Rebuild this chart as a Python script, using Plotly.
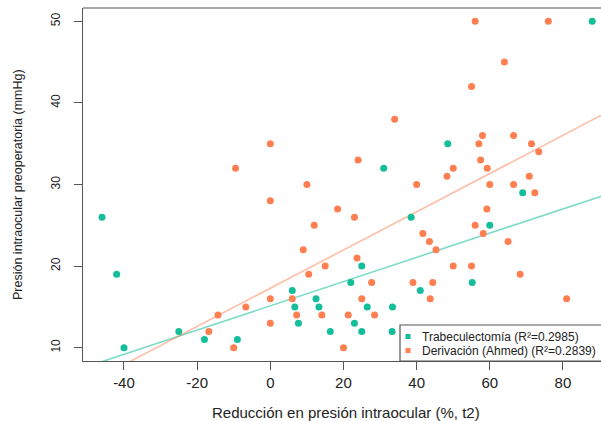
import plotly.graph_objects as go

# Trabeculectomía: reducción de PIO (%, t2) vs PIO preoperatoria (mmHg)
trab_x = [-46, -42, -40, -25, -18, -9, 6, 6.7, 7.7, 12.5, 13.3, 16.4, 22, 23, 25, 25,
          26.5, 31, 33.4, 33.3, 38.5, 41, 48.5, 55.2, 60, 69, 88]
trab_y = [26, 19, 10, 12, 11, 11, 17, 15, 13, 16, 15, 12, 18, 13, 20, 12,
          15, 32, 15, 12, 26, 17, 35, 18, 25, 29, 50]

# Derivación (Ahmed)
ahmed_x = [-9.5, 34, 0, 24, 10, 40, 56, 76, 64, 55, 58, 66.5, 57, 71.4, 73.4, 57.5,
           50, 59.3, 48.3, 70.8, 60, 66.5, 72.3, 18.4, 59.2, -16.8, -14.3, -6.7, -10,
           0, 23, 12, 9, 23.7, 15, 10.5, 27.7, 39, 0, 6, 25, 7.2, 14.1, 21.3, 28.5,
           0, 20, 58.2, 56, 41.7, 43.5, 45.3, 65, 50, 55, 68.3, 44.4, 43.7, 81]
ahmed_y = [32, 38, 35, 33, 30, 30, 50, 50, 45, 42, 36, 36, 35, 35, 34, 33,
           32, 32, 31, 31, 30, 30, 29, 27, 27, 12, 14, 15, 10,
           28, 26, 25, 22, 21, 20, 19, 18, 18, 16, 16, 16, 14, 14, 14, 14,
           13, 10, 24, 25, 24, 23, 22, 23, 20, 20, 19, 18, 16, 16]

# Linear fits (intercept, slope) and R² shown in the legend
trab_fit = (15.13, 0.1485)
ahmed_fit = (17.29, 0.2342)
trab_r2 = "0.2985"
ahmed_r2 = "0.2839"

x_ticks = [-40, -20, 0, 20, 40, 60, 80]
x_ticklabels = ["-40", "-20", "0", "20", "40", "60", "80"]
y_ticks = [10, 20, 30, 40, 50]

TEAL = "#14BE9A"
ORANGE = "#FF7F50"
AXIS = "#555555"
TEXT = "#222222"
FONT = "Liberation Sans, Arial, sans-serif"

W, H = 601, 421
ML, MR, MT, MB = 83, 0, 8, 60
PW, PH = W - ML - MR, H - MT - MB


def px(xp):
    return (xp - ML) / PW


def py(yp):
    return (H - MB - yp) / PH


fig = go.Figure()

line_x = [-60, 100]
for (b0, b1), col in [(trab_fit, "rgba(20,190,154,0.55)"), (ahmed_fit, "rgba(255,127,80,0.5)")]:
    fig.add_trace(go.Scatter(x=line_x, y=[b0 + b1 * v for v in line_x], mode="lines",
                             line=dict(color=col, width=1.6), hoverinfo="skip",
                             showlegend=False))

fig.add_trace(go.Scatter(x=trab_x, y=trab_y, mode="markers", name="Trabeculectomía",
                         marker=dict(color=TEAL, size=7, line=dict(width=0)),
                         showlegend=False))
fig.add_trace(go.Scatter(x=ahmed_x, y=ahmed_y, mode="markers", name="Derivación (Ahmed)",
                         marker=dict(color=ORANGE, size=7, line=dict(width=0)),
                         showlegend=False))

axis_common = dict(showgrid=False, zeroline=False, showline=True, linecolor=AXIS,
                   linewidth=1.2, ticks="outside", ticklen=8, tickcolor=AXIS)

fig.update_xaxes(range=[-51.2, 90.4], tickvals=x_ticks, ticktext=x_ticklabels,
                 tickfont=dict(family=FONT, size=15, color=TEXT), **axis_common)
fig.update_yaxes(range=[8.37, 51.63], tickvals=y_ticks, tickangle=-90,
                 tickfont=dict(family=FONT, size=12, color=TEXT),
                 ticklabelstandoff=9, **axis_common)

shapes = [
    # top border of the box
    dict(type="line", xref="paper", yref="paper", x0=0, x1=1, y0=1, y1=1,
         line=dict(color=AXIS, width=1.2)),
    # legend frame
    dict(type="rect", xref="paper", yref="paper", x0=px(400), x1=px(640), y0=py(361), y1=py(325),
         line=dict(color=AXIS, width=1.2), fillcolor="white", layer="above"),
]
for yc, col in [(336.5, TEAL), (350.5, ORANGE)]:
    shapes.append(dict(type="rect", xref="paper", yref="paper", x0=px(405.5), x1=px(410.5),
                       y0=py(yc + 2.5), y1=py(yc - 2.5), line=dict(width=0), fillcolor=col,
                       layer="above"))

annotations = [
    dict(text=f"Trabeculectomía (R²={trab_r2})", x=px(420), y=py(336.5), xref="paper",
         yref="paper", xanchor="left", yanchor="middle", showarrow=False,
         font=dict(family=FONT, size=12, color=TEXT)),
    dict(text=f"Derivación (Ahmed) (R²={ahmed_r2})", x=px(420), y=py(350.5), xref="paper",
         yref="paper", xanchor="left", yanchor="middle", showarrow=False,
         font=dict(family=FONT, size=12, color=TEXT)),
    dict(text="Reducción en presión intraocular (%, t2)", x=px(346), y=py(412), xref="paper",
         yref="paper", xanchor="center", yanchor="middle", showarrow=False,
         font=dict(family=FONT, size=15, color=TEXT)),
    dict(text="Presión intraocular preoperatoria (mmHg)", x=px(18), y=py(185), xref="paper",
         yref="paper", xanchor="center", yanchor="middle", textangle=-90, showarrow=False,
         font=dict(family=FONT, size=12.5, color=TEXT)),
]

fig.update_layout(width=W, height=H, margin=dict(l=ML, r=MR, t=MT, b=MB),
                  plot_bgcolor="white", paper_bgcolor="white",
                  shapes=shapes, annotations=annotations, showlegend=False)

fig.write_html("out.html")
